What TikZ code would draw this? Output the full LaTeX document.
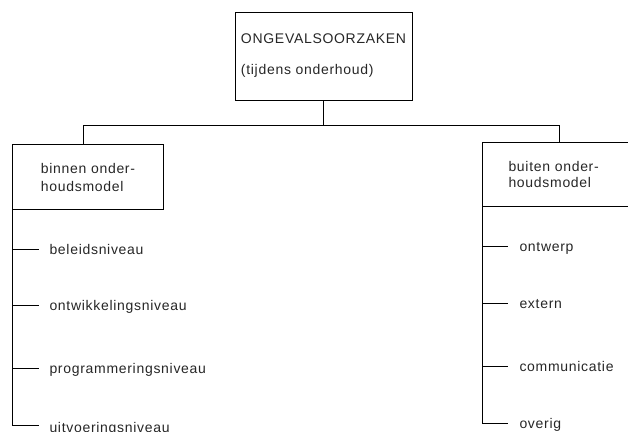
\documentclass[tikz,border=0pt]{standalone}
\usepackage{fontspec}
\setmainfont{Liberation Sans}[LetterSpace=5]
\usetikzlibrary{positioning}

\begin{document}
\begin{tikzpicture}[x=1pt, y=-1pt, line width=1pt,
    every node/.style={font=\fontsize{14}{18}\selectfont, text=black!85}]

\useasboundingbox (0,0) rectangle (628,431);
\clip (0,0) rectangle (628,431);

\node[draw, minimum width=177pt, minimum height=88pt, align=left,
      font=\fontsize{14}{31}\selectfont] (oorzaken) at (323.5,56)
      {ONGEVALSOORZAKEN\\(tijdens onderhoud)};

\node[draw, anchor=north west, minimum width=151pt,
      minimum height=65pt, align=left] (binnen) at (12,144)
      {binnen onder-\\houdsmodel};
\node[draw, anchor=north west, text width=150pt, inner xsep=26pt,
      minimum height=64pt, align=left, font=\fontsize{14}{16.5}\selectfont]
      (buiten) at (482,142) {buiten onder-\\houdsmodel};

% tree
\coordinate (split) at (323.5,125);
\coordinate (Lturn) at (83,125);
\coordinate (Rturn) at (559,125);

\draw (oorzaken.south) -- (split);
\draw (Lturn) -- (Rturn);
\draw (Lturn) -- (Lturn |- binnen.north);
\draw (Rturn) -- (Rturn |- buiten.north);

% binnen
\coordinate (b1) at (12,249);
\coordinate (b2) at (12,305);
\coordinate (b3) at (12,368);
\coordinate (b4) at (12,425);

\node[anchor=base west, inner sep=0pt] (beleid) at (49,254) {beleidsniveau};
\node[anchor=base west, inner sep=0pt] (ontwikkel) at (49,310) {ontwikkelingsniveau};
\node[anchor=base west, inner sep=0pt] (programma) at (49,373) {programmeringsniveau};
\node[anchor=base west, inner sep=0pt] (uitvoer) at (49,432) {uitvoeringsniveau};

\draw (binnen.south west) -- (b4);
\draw[shorten >=10pt] (b1) -- (b1 -| beleid.west);
\draw[shorten >=10pt] (b2) -- (b2 -| ontwikkel.west);
\draw[shorten >=10pt] (b3) -- (b3 -| programma.west);
\draw[shorten >=10pt] (b4) -- (b4 -| uitvoer.west);

% buiten
\coordinate (u1) at (482,246);
\coordinate (u2) at (482,303);
\coordinate (u3) at (482,366);
\coordinate (u4) at (482,423);

\node[anchor=base west, inner sep=0pt] (ontwerp) at (519,251) {ontwerp};
\node[anchor=base west, inner sep=0pt] (extern) at (519,308) {extern};
\node[anchor=base west, inner sep=0pt] (communicatie) at (519,371) {communicatie};
\node[anchor=base west, inner sep=0pt] (overig) at (519,428) {overig};

\draw (buiten.south west) -- (u4);
\draw[shorten >=11pt] (u1) -- (u1 -| ontwerp.west);
\draw[shorten >=11pt] (u2) -- (u2 -| extern.west);
\draw[shorten >=11pt] (u3) -- (u3 -| communicatie.west);
\draw[shorten >=11pt] (u4) -- (u4 -| overig.west);
\end{tikzpicture}
\end{document}
